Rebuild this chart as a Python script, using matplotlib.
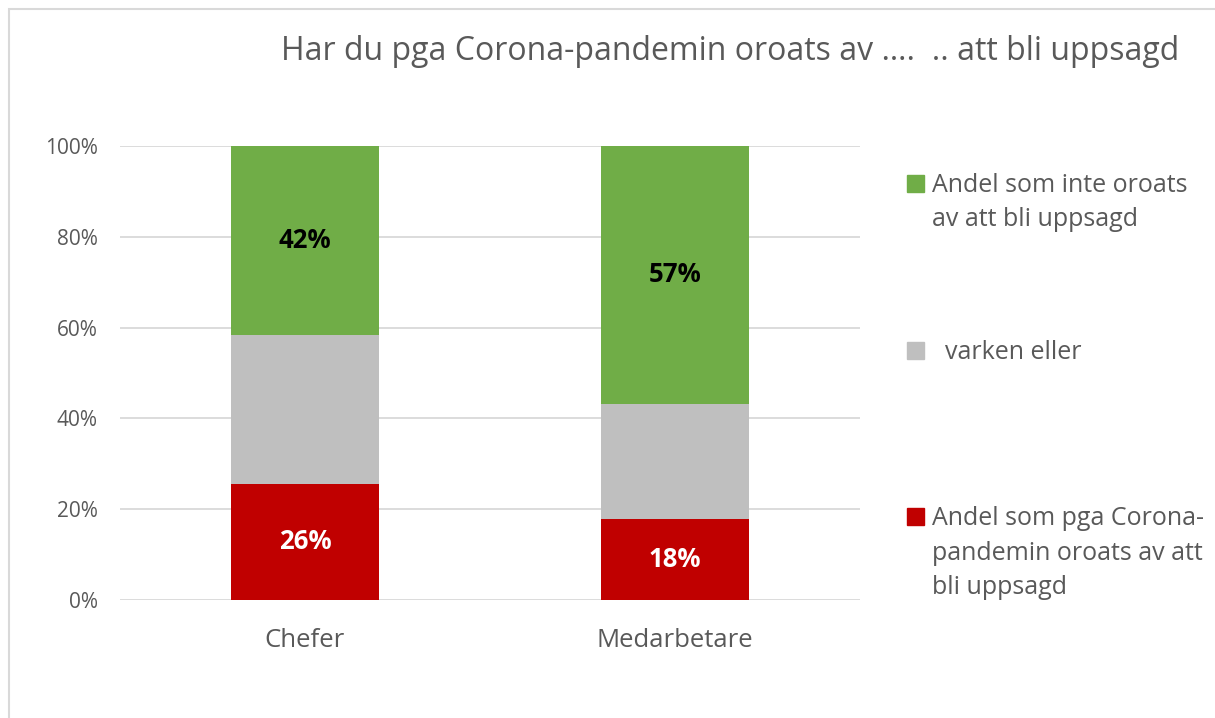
import matplotlib.pyplot as plt
from matplotlib.patches import Rectangle

# data (andel i procent)
groups = ["Chefer", "Medarbetare"]
oroad = [25.6, 17.8]
varken = [32.8, 25.4]
inte_oroad = [41.6, 56.8]
labels_oroad = ["26%", "18%"]
labels_inte = ["42%", "57%"]

leg_names = ["Andel som inte oroats\nav att bli uppsagd",
             "  varken eller",
             "Andel som pga Corona-\npandemin oroats av att\nbli uppsagd"]
colors = ["#70ad47", "#bfbfbf", "#c00000"]

plt.rcParams['font.family'] = ['Open Sans', 'DejaVu Sans']
textcol = "#595959"

fig = plt.figure(figsize=(12.15, 7.18), dpi=100)
W, H = 1215, 718
ax = fig.add_axes([120 / W, 1 - 600 / H, 740 / W, 454 / H])

x = range(len(groups))
ax.bar(x, oroad, width=0.4, color=colors[2], zorder=3)
ax.bar(x, varken, width=0.4, bottom=oroad, color=colors[1], zorder=3)
bottom2 = [a + b for a, b in zip(oroad, varken)]
ax.bar(x, inte_oroad, width=0.4, bottom=bottom2, color=colors[0], zorder=3)

for i in x:
    ax.text(i, oroad[i] / 2, labels_oroad[i], ha='center', va='center',
            color='white', fontsize=18.5, fontweight='bold', zorder=4)
    ax.text(i, bottom2[i] + inte_oroad[i] / 2, labels_inte[i], ha='center',
            va='center', color='black', fontsize=18.5, fontweight='bold', zorder=4)

ax.set_xlim(-0.5, 1.5)
ax.set_ylim(0, 100)
ax.set_yticks([0, 20, 40, 60, 80, 100])
ax.set_yticklabels([f"{v}%" for v in [0, 20, 40, 60, 80, 100]])
ax.set_xticks(list(x))
ax.set_xticklabels(groups)
ax.tick_params(axis='y', length=0, pad=16, labelsize=15, labelcolor=textcol)
ax.tick_params(axis='x', length=0, pad=20, labelsize=18.5, labelcolor=textcol)
ax.grid(axis='y', color='#d9d9d9', linewidth=1.3, zorder=0)
for s in ax.spines.values():
    s.set_visible(False)

fig.text(730 / W, 1 - 51 / H, "Har du pga Corona-pandemin oroats av ….  .. att bli uppsagd",
         ha='center', va='center', fontsize=23, color=textcol)

# legend
leg_y = [183, 350, 516]
for name, c, y in zip(leg_names, colors, leg_y):
    fig.add_artist(Rectangle((907 / W, 1 - (y + 8.5) / H), 17 / W, 17 / H,
                             transform=fig.transFigure, color=c))
    fig.text(932 / W, 1 - (y - 10) / H, name, ha='left', va='top',
             fontsize=18, color=textcol, linespacing=1.5)

# frame
fig.add_artist(Rectangle((9 / W, -0.1), 1.2, 1 - 9 / H + 0.1,
                         transform=fig.transFigure, fill=False,
                         edgecolor='#d9d9d9', linewidth=1.5))

fig.savefig("out.png", dpi=100)
